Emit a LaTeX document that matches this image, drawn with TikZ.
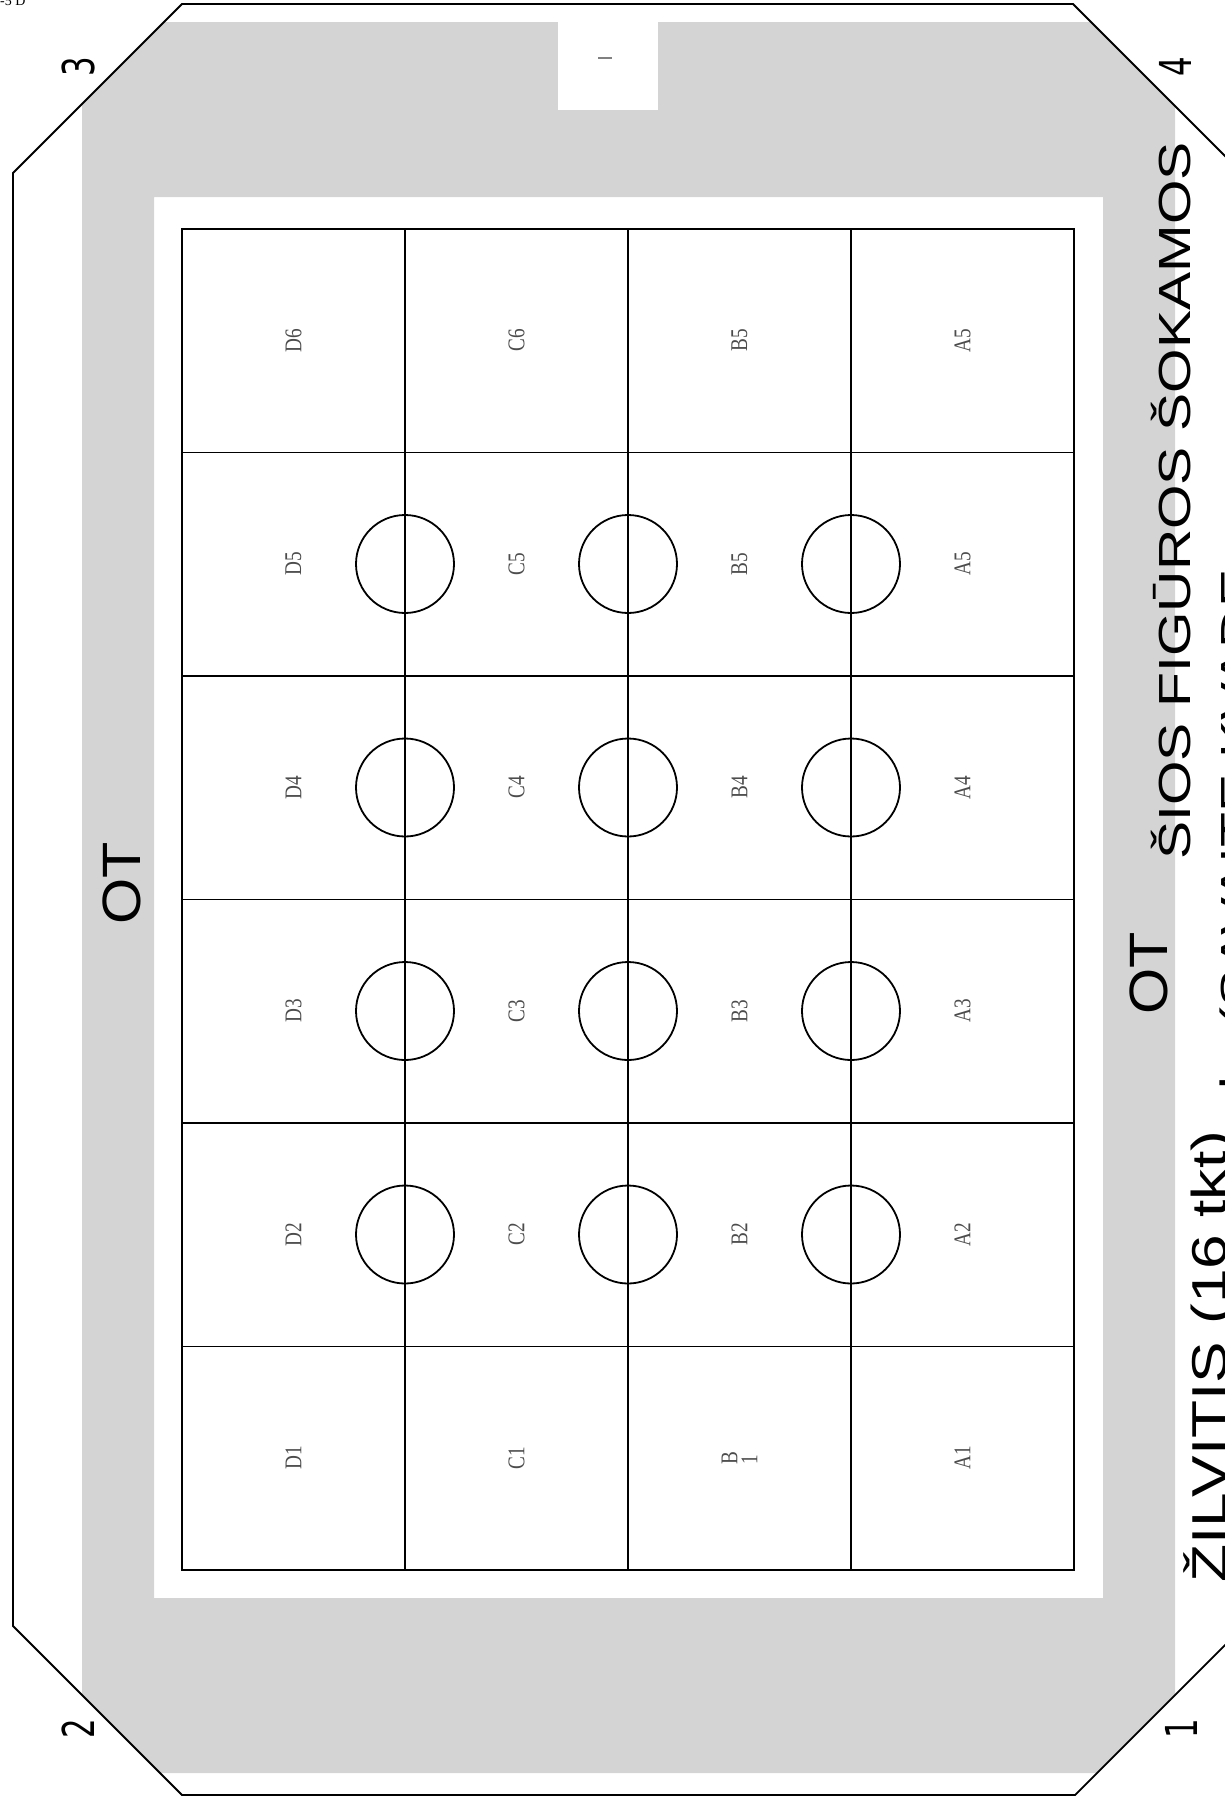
\documentclass[tikz,border=0pt]{standalone}
\usepackage{fontspec}
\setmainfont{Liberation Serif}
\newfontfamily\handfont{Liberation Sans}
\newfontfamily\digitfont{DejaVu Sans}
\usepackage{graphicx}
\begin{document}
\begin{tikzpicture}[x=1pt,y=-1pt,
  gridline/.style={line width=1.8pt,black},
  octline/.style={line width=1.8pt,black},
  band/.style={fill=black!17,even odd rule},
  hole/.style={circle,draw,line width=1.8pt,minimum size=98pt,inner sep=0pt},
  cell/.style={rotate=90,inner sep=0pt,text=black!70,font=\fontsize{24}{24}\selectfont},
  hw/.style={rotate=90,anchor=base west,inner sep=0pt,font=\handfont},
  corner/.style={rotate=90,inner sep=0pt,font=\digitfont\fontsize{44}{44}\selectfont}
]
\useasboundingbox (0,0) rectangle (1225,1797);
\begin{scope}
\clip (0,0) rectangle (1225,1797);
% gray frame band
\path[band] (164,22) -- (1090,22) -- (1175,107) -- (1175,1695) -- (1097,1773)
  -- (161,1773) -- (82,1694) -- (82,104) -- cycle
  (154,197) rectangle (1103,1598);
\fill[white] (558,22) rectangle (658,110);
\draw[black!50,line width=1.5pt] (598,58) -- (612,58);
% outer octagon
\draw[octline] (182,4) -- (1073,4) -- (1242,173) -- (1242,1628) -- (1075,1795)
  -- (182,1795) -- (13,1626) -- (13,173) -- cycle;
% grid
\draw[gridline] (182,229) rectangle (1074,1570);
\foreach \gx in {405,628,851} \draw[gridline] (\gx,229) -- (\gx,1570);
\foreach \gy in {452.5,676,899.5,1123,1346.5} \draw[gridline] (182,\gy) -- (1074,\gy);
% circles
\foreach \hx [count=\i] in {405,628,851}
  \foreach \hy [count=\j] in {564,787.5,1011,1234.5}
    \node[hole] (h\i\j) at (\hx,\hy) {};
% cell labels
\foreach \c/\cx in {D/293.5,C/516.5,B/739.5,A/962.5}{
  \foreach \r/\ry in {5/564,4/787.5,3/1011,2/1234.5}
    \node[cell] (l\c\r) at (\cx,\ry) {\scalebox{0.8}[1]{\c\r}};
}
\node[cell] (lD6) at (293.5,340.5) {\scalebox{0.8}[1]{D6}};
\node[cell] (lC6) at (516.5,340.5) {\scalebox{0.8}[1]{C6}};
\node[cell] (lB5t) at (739.5,340.5) {\scalebox{0.8}[1]{B5}};
\node[cell] (lA5t) at (962.5,340.5) {\scalebox{0.8}[1]{A5}};
\node[cell] (lD1) at (293.5,1458) {\scalebox{0.8}[1]{D1}};
\node[cell] (lC1) at (516.5,1458) {\scalebox{0.8}[1]{C1}};
\node[cell,align=left] (lB1) at (739.5,1458) {\scalebox{0.8}[1]{B}\\[-4pt]\scalebox{0.8}[1]{1}};
\node[cell] (lA1) at (962.5,1458) {\scalebox{0.8}[1]{A1}};
% corner numbers
\node[corner] (n3) at (78,67) {\scalebox{0.7}[1]{3}};
\node[corner] (n2) at (78,1729) {\scalebox{0.7}[1]{2}};
\node[corner] (n4) at (1175,67) {\scalebox{0.7}[1]{4}};
\node[corner] (n1) at (1181,1729) {\scalebox{0.7}[1]{1}};
% handwritten notes
\node[hw,font=\handfont\fontsize{49}{49}\selectfont] (zil) at (1226,1583)
  {\scalebox{1.27}[1]{ŽILVITIS (16 tkt)}};
\node[hw,font=\handfont\fontsize{45}{45}\selectfont] (sios) at (1190,860)
  {\scalebox{1.27}[1]{ŠIOS FIGŪROS ŠOKAMOS}};
\node[hw,font=\handfont\fontsize{54}{54}\selectfont] (otr) at (1167,1015)
  {\scalebox{1.1}[1]{OT}};
\node[hw,font=\handfont\fontsize{54}{54}\selectfont] (otl) at (140,925)
  {\scalebox{1.1}[1]{OT}};
\node[hw,font=\handfont\fontsize{45}{45}\selectfont] (last) at (1252,1090)
  {\scalebox{1.27}[1]{l · (SAVAITĘ KVADE}};
\node[font=\fontsize{14}{14}\selectfont,anchor=north west,inner sep=0pt] (tl) at (0,-4) {-5 D};
\end{scope}
\end{tikzpicture}
\end{document}
